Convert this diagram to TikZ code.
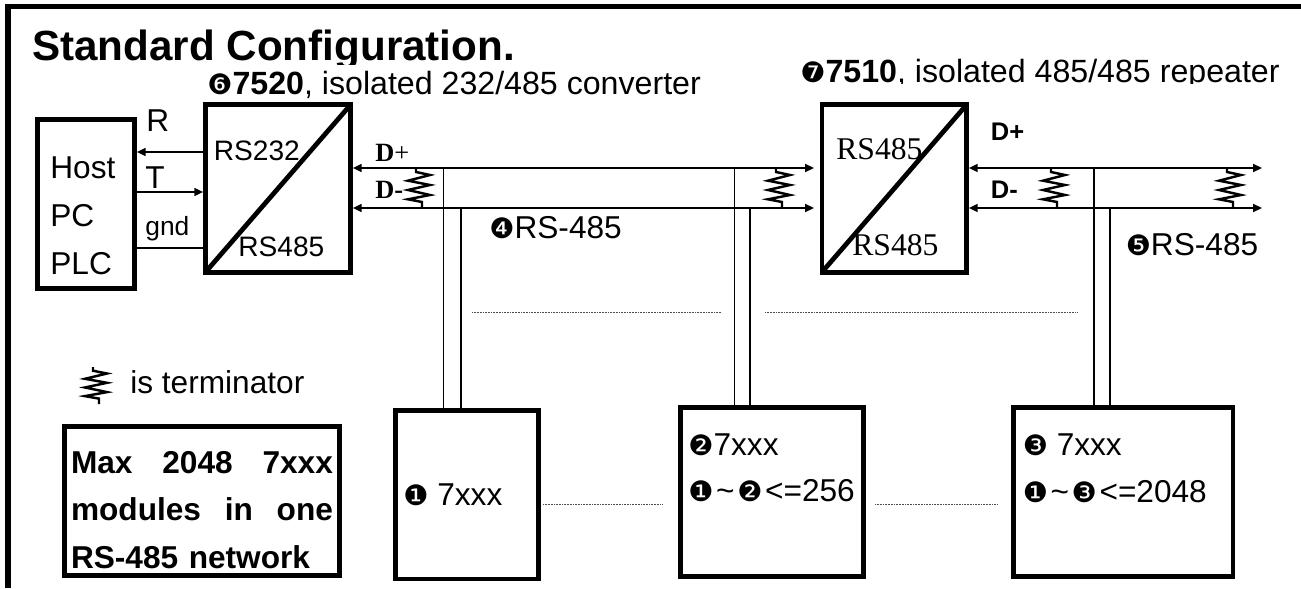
\documentclass[tikz,border=0pt]{standalone}
\usepackage{fontspec}
\setmainfont{Liberation Sans}
\newfontfamily\serifface{Liberation Serif}
\newfontfamily\dingface{DejaVu Sans}
\usetikzlibrary{arrows.meta,positioning}
\newcommand{\cnum}[1]{{\dingface\fontsize{16}{16}\selectfont #1}}
\tikzset{
  box/.style={draw,line width=2.7pt,inner sep=0pt},
  lbl/.style={inner sep=0pt,anchor=base west,font=\fontsize{18}{22}\selectfont},
  lblsmall/.style={lbl,font=\fontsize{16}{20}\selectfont},
  lblser/.style={lbl,font=\fontsize{18}{22}\selectfont\serifface},
  lblhead/.style={lbl,font=\fontsize{18.3}{22}\selectfont},
  wire/.style={line width=0.9pt},
  sig/.style={wire,-{Triangle[length=5pt,width=4.5pt]}},
  bus/.style={wire,{Triangle[length=5pt,width=4.5pt]}-{Triangle[length=5pt,width=4.5pt]}},
  dotline/.style={line width=0.5pt,dash pattern=on 0.5pt off 0.4pt,black!70},
  diag/.style={line width=2.7pt,shorten <=2pt,shorten >=2pt},
  term/.pic={\draw[line width=1.4pt] (-3,0) -- (-3,4) -- (11,7) -- (-11,12.7) -- (11,17) -- (-11,22) -- (11,27) -- (-11,31.3) -- (3,34) -- (3,40);},
}
\begin{document}
\begin{tikzpicture}[x=0.02cm,y=-0.02cm]
\useasboundingbox (0,0) rectangle (1301,588);
% outer frame, open on the right and at the bottom
\draw[line width=3pt] (8,588) -- (8,6.5) -- (1301,6.5);
\begin{scope}
\clip (0,0) rectangle (700,65);
\node[lbl,font=\fontsize{24}{28}\selectfont\bfseries] (title) at (32,61) {Standard Configuration.};
\end{scope}
\node[lblhead] (convname) at (207,94.3) {\cnum{❻}\textbf{7520}, isolated 232/485 converter};
\begin{scope}
\clip (780,50) rectangle (1301,84);
\node[lblhead] (repname) at (800,82.7) {\cnum{❼}\textbf{7510}, isolated 485/485 repeater};
\end{scope}

% boxes
\node[box,minimum width=1.94cm,minimum height=3.38cm] (host) at (86,204) {};
\node[box,minimum width=2.9cm,minimum height=3.36cm] (conv) at (278,188.5) {};
\node[box,minimum width=2.89cm,minimum height=3.36cm] (rep) at (894.25,188.5) {};
\node[box,minimum width=2.86cm,minimum height=3.37cm] (mod1) at (467,494.75) {};
\node[box,minimum width=3.66cm,minimum height=3.38cm] (mod2) at (772,492) {};
\node[box,minimum width=4.39cm,minimum height=3.38cm] (mod3) at (1123.25,492) {};
\node[box,minimum width=5.5cm,minimum height=2.98cm] (note) at (202,501) {};
\node[inner sep=0pt,text width=5.24cm,align=left,
  font=\fontsize{18}{27.1}\selectfont\bfseries] (notetxt) at (202,510)
  {Max\hfill 2048\hfill 7xxx\\modules\hfill in\hfill one\\RS-485 network};
\draw[diag] (conv.south west) -- (conv.north east);
\draw[diag] (rep.south west) -- (rep.north east);

% host side
\coordinate (rxA) at (0,152);
\coordinate (txA) at (0,192);
\coordinate (gndA) at (0,248);
\draw[sig] (conv.west |- rxA) -- (host.east |- rxA);
\draw[sig] (host.east |- txA) -- (conv.west |- txA);
\draw[wire] (host.east |- gndA) -- (conv.west |- gndA);
\node[lbl] (rlbl) at (146,131.7) {R};
\node[lbl] (tlbl) at (145,188.3) {T};
\node[lbl,font=\fontsize{15}{18}\selectfont] (gndlbl) at (145,235) {gnd};
\node[lbl] (hostlbl) at (50,178) {Host};
\node[lbl] (pclbl) at (50,226.7) {PC};
\node[lbl] (plclbl) at (50,274) {PLC};
\node[lblsmall] (conv232) at (213.5,160) {RS232};
\node[lblsmall] (conv485) at (238,256.7) {RS485};
\node[lblser] (rep485a) at (836,159.3) {RS485};
\node[lblser] (rep485b) at (852,255.7) {RS485};

% bus lines
\coordinate (dpA) at (814,168);
\coordinate (dmA) at (814,208);
\coordinate (dpB) at (1262,168);
\coordinate (dmB) at (1262,208);
\draw[bus] (conv.east |- dpA) -- (dpA);
\draw[bus] (conv.east |- dmA) -- (dmA);
\draw[bus] (rep.east |- dpB) -- (dpB);
\draw[bus] (rep.east |- dmB) -- (dmB);
\node[lbl,font=\fontsize{15}{18}\selectfont\serifface] (dpleft) at (375,161) {\textbf{D}+};
\node[lbl,font=\fontsize{15}{18}\selectfont\serifface\bfseries] (dmleft) at (375,198) {D-};
\node[lbl,font=\fontsize{14.5}{18}\selectfont\bfseries] (dpright) at (990.5,140.7) {D+};
\node[lbl,font=\fontsize{14.5}{18}\selectfont\bfseries] (dmright) at (990.5,198) {D-};
\foreach \tx in {419,779,1054,1230}
  \pic at (\tx,168) {term};
\node[lbl] (busA) at (489,238.3) {\cnum{❹}RS-485};
\node[lbl] (busB) at (1125.4,255) {\cnum{❺}RS-485};

% drops to the modules
\coordinate (tap1a) at (443.5,168);
\coordinate (tap1b) at (461,208);
\coordinate (tap2a) at (734.3,168);
\coordinate (tap2b) at (750,208);
\coordinate (tap3a) at (1094,168);
\coordinate (tap3b) at (1110,208);
\foreach \tap/\target in {tap1a/mod1,tap1b/mod1,tap2a/mod2,tap2b/mod2,tap3a/mod3,tap3b/mod3}
  \draw[wire] (\tap) -- (\tap |- \target.north);

% dotted rows
\coordinate (upA) at (472,312);
\coordinate (upB) at (720.6,312);
\coordinate (upC) at (765,312);
\coordinate (upD) at (1077.6,312);
\coordinate (loA) at (543,504);
\coordinate (loB) at (662.5,504);
\coordinate (loC) at (875,504);
\coordinate (loD) at (997,504);
\draw[dotline] (upA) -- (upB);
\draw[dotline] (upC) -- (upD);
\draw[dotline] (loA) -- (loB);
\draw[dotline] (loC) -- (loD);

% module texts
\node[lbl] (mod1a) at (403,505) {\cnum{❶} 7xxx};
\node[lbl] (mod2a) at (688,455) {\cnum{❷}7xxx};
\node[lbl] (mod2b) at (688,501.7) {\cnum{❶}\kern1.5pt\textasciitilde\kern1.5pt\cnum{❷}\kern1.5pt<=256};
\node[lbl] (mod3a) at (1022.4,455) {\cnum{❸} 7xxx};
\node[lbl] (mod3b) at (1022.4,502) {\cnum{❶}\kern1.5pt\textasciitilde\kern1.5pt\cnum{❸}\kern1.5pt<=2048};

% legend
\pic[yscale=0.93] at (96,367) {term};
\node[lbl] (termlbl) at (130,393) {is terminator};
\end{tikzpicture}
\end{document}
